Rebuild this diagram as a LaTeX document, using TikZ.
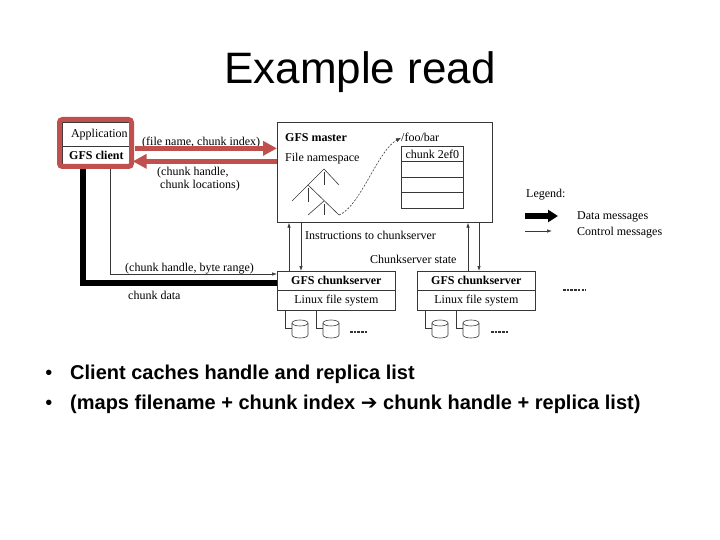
\documentclass[tikz,border=0pt]{standalone}
\usepackage{fontspec}
\setmainfont{Liberation Serif}
\newfontfamily\arialf{Liberation Sans}
\newfontfamily\djvf{DejaVu Sans}
\usetikzlibrary{arrows.meta}
\definecolor{redc}{RGB}{192,80,77}
\definecolor{linec}{RGB}{55,55,55}
\begin{document}
\begin{tikzpicture}[x=1pt,y=-1pt,
  box/.style={draw=linec, line width=0.7pt, inner sep=0pt, anchor=north west, font=\fontsize{12}{14}\selectfont},
  lbl/.style={inner sep=0pt, anchor=base west, font=\fontsize{12}{14}\selectfont},
  ctrl/.style={draw=linec, line width=0.7pt, -{Latex[length=5pt,width=3.5pt]}},
  thin/.style={draw=linec, line width=0.7pt},
  data/.style={draw=black, line width=6pt},
  redarr/.style={draw=redc, line width=5.5pt, -{Triangle[length=14pt,width=14pt]}},
  dashbit/.style={draw=black!80, line width=1.6pt, dash pattern=on 2.5pt off 1.2pt},
  disk/.pic={
    \draw[linec, line width=0.6pt, fill=white] (0,0) -- (0,12) arc[start angle=180, end angle=0, x radius=8, y radius=3] -- (16,0);
    \draw[linec, line width=0.6pt] (8,0) ellipse[x radius=8, y radius=3];
  }
]
\useasboundingbox[fill=white] (0,0) rectangle (720,540);

% title
\node[anchor=base, inner sep=0pt, font=\arialf\fontsize{44}{50}\selectfont] (title) at (360,84) {Example read};

% client
\node[box, minimum width=68pt, minimum height=24pt] (app) at (62,122) {\hspace*{6pt}Application};
\node[box, minimum width=68pt, minimum height=18pt] (gfsc) at (62,146) {\bfseries GFS client};

% master
\node[box, minimum width=215pt, minimum height=100pt] (master) at (277,122) {};
\node[lbl, font=\bfseries\fontsize{12}{14}\selectfont] (mtitle) at (285,142) {GFS master};
\node[lbl] (fns) at (285,162) {File namespace};
\node[lbl] (foobar) at (401,142) {/foo/bar};
\node[box, minimum width=62pt, minimum height=15.5pt] (r1) at (401,146) {chunk 2ef0};
\node[box, minimum width=62pt, minimum height=15.5pt] (r2) at (401,161.5) {};
\node[box, minimum width=62pt, minimum height=15.5pt] (r3) at (401,177) {};
\node[box, minimum width=62pt, minimum height=15.5pt] (r4) at (401,192.5) {};

% namespace tree
\draw[thin, line width=0.6pt] (292,201) -- (324,169) -- (339,185);
\draw[thin, line width=0.6pt] (324,172) -- (324,185);
\draw[thin, line width=0.6pt] (308,185) -- (339,215);
\draw[thin, line width=0.6pt] (308,188) -- (308,202);
\draw[thin, line width=0.6pt] (324,201) -- (308,215);
\draw[thin, line width=0.6pt] (324,204) -- (324,215);
\coordinate (leaf) at (339,215);
\draw[linec, line width=0.6pt, dash pattern=on 2pt off 1.5pt, -{Latex[length=5pt,width=4pt]}]
  (leaf) .. controls (360,207) and (378,150) .. (foobar.west);

% chunkservers
\node[box, minimum width=118pt, minimum height=19pt, font=\bfseries\fontsize{12}{14}\selectfont] (cs1a) at (277,271) {GFS chunkserver};
\node[box, minimum width=118pt, minimum height=20pt] (cs1b) at (277,290) {Linux file system};
\node[box, minimum width=118pt, minimum height=19pt, font=\bfseries\fontsize{12}{14}\selectfont] (cs2a) at (417,271) {GFS chunkserver};
\node[box, minimum width=118pt, minimum height=20pt] (cs2b) at (417,290) {Linux file system};

% disks
\pic at (292,323) {disk};
\pic at (323,323) {disk};
\pic at (432,323) {disk};
\pic at (463,323) {disk};
\coordinate (d1) at (292,328);
\coordinate (d2) at (323,328);
\coordinate (d3) at (432,328);
\coordinate (d4) at (463,328);
\draw[thin, line width=0.6pt] ([xshift=8pt]cs1b.south west) |- (d1);
\draw[thin, line width=0.6pt] ([xshift=39pt]cs1b.south west) |- (d2);
\draw[thin, line width=0.6pt] ([xshift=8pt]cs2b.south west) |- (d3);
\draw[thin, line width=0.6pt] ([xshift=39pt]cs2b.south west) |- (d4);
\coordinate (e1) at (350,332); \coordinate (e2) at (368,332);
\coordinate (e3) at (491,332); \coordinate (e4) at (509,332);
\coordinate (e5) at (563,290); \coordinate (e6) at (586,290);
\draw[dashbit] (e1) -- (e2);
\draw[dashbit] (e3) -- (e4);
\draw[dashbit] (e5) -- (e6);

% master <-> chunkservers
\coordinate (m1) at ([xshift=12pt]cs1a.north west);
\coordinate (m2) at ([xshift=24pt]cs1a.north west);
\coordinate (m3) at ([xshift=51pt]cs2a.north west);
\coordinate (m4) at ([xshift=62pt]cs2a.north west);
\draw[ctrl] (m1) -- (m1 |- master.south);
\draw[ctrl] (m2 |- master.south) -- (m2);
\draw[ctrl] (m3) -- (m3 |- master.south);
\draw[ctrl] (m4 |- master.south) -- (m4);
\node[lbl] (instr) at (305,240) {Instructions to chunkserver};
\node[lbl] (state) at (370,263) {Chunkserver state};

% client <-> chunkserver
\coordinate (cy) at (0,274);
\coordinate (dy) at (0,283);
\draw[data] ([xshift=21pt]gfsc.south west) |- (cs1a.west |- dy);
\draw[ctrl] ([xshift=48pt]gfsc.south west) |- (cs1a.west |- cy);
\node[lbl] (cbr) at (125,271) {(chunk handle, byte range)};
\node[lbl] (cdata) at (128,299) {chunk data};

% client <-> master (highlighted)
\node[lbl] (fnci) at (142,146) {(file name, chunk index)};
\node[lbl] (chl1) at (157,176) {(chunk handle,};
\node[lbl] (chl2) at (160,189) {chunk locations)};
\draw[draw=redc, line width=5pt, rounded corners=3pt] (59.5,119.5) rectangle (131.5,166.5);
\coordinate (u1) at ([shift={(4pt,7pt)}]gfsc.east);
\coordinate (l1) at ([shift={(2pt,-6pt)}]gfsc.east);
\draw[redarr] (u1) -- (u1 -| master.west);
\draw[redarr] (l1 -| master.west) -- (l1);

% legend
\node[lbl] (leg) at (526,197) {Legend:};
\coordinate (lg1) at (525,216); \coordinate (lg2) at (558,216);
\coordinate (lg3) at (525,231); \coordinate (lg4) at (552,231);
\draw[draw=black, line width=5.5pt, -{Triangle[length=10pt,width=12pt]}] (lg1) -- (lg2);
\draw[ctrl] (lg3) -- (lg4);
\node[lbl] (ldm) at (577,220) {Data messages};
\node[lbl] (lcm) at (577,236) {Control messages};

% bullets
\node[anchor=base, inner sep=0pt, font=\arialf\fontsize{20}{24}\selectfont] (bu1) at (49,379) {•};
\node[anchor=base, inner sep=0pt, font=\arialf\fontsize{20}{24}\selectfont] (bu2) at (49,409) {•};
\node[anchor=base west, inner sep=0pt, font=\arialf\bfseries\fontsize{20}{24}\selectfont] (t1) at (70,379) {Client caches handle and replica list};
\node[anchor=base west, inner sep=0pt, font=\arialf\bfseries\fontsize{20}{24}\selectfont] (t2) at (70,409) {(maps filename + chunk index {\djvf\bfseries ➔} chunk handle + replica list)};
\end{tikzpicture}
\end{document}
